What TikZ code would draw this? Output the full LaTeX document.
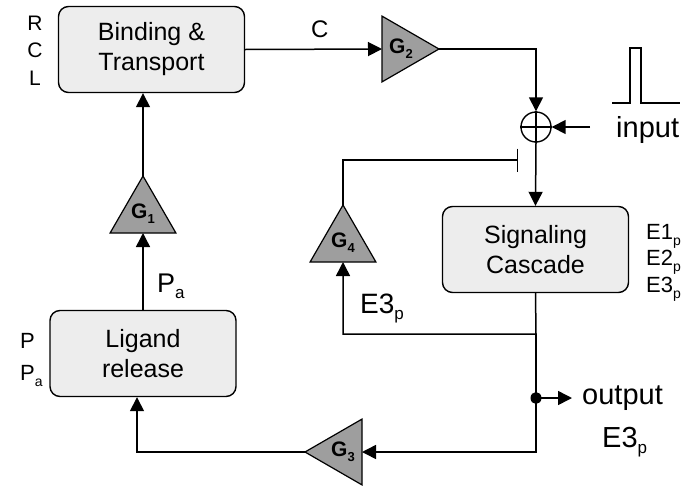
\documentclass[tikz,border=0pt]{standalone}
\usepackage{fontspec}
\setmainfont{Liberation Sans}
\usetikzlibrary{arrows.meta}
\usetikzlibrary{shapes.geometric}

\newcommand{\lsub}[2][15]{\raisebox{-6pt}{\fontsize{#1}{#1}\selectfont #2}}
\newcommand{\gsub}[1]{G\raisebox{-5pt}{\fontsize{13}{13}\selectfont #1}}

\begin{document}
\begin{tikzpicture}[x=1pt,y=-1pt,
  blk/.style={draw, line width=1.4pt, rounded corners=10pt, fill=BoxGray,
    minimum width=186pt, minimum height=86pt, align=center,
    font=\fontsize{25}{30}\selectfont},
  amp/.style={draw, line width=1.2pt, fill=AmpGray, regular polygon,
    regular polygon sides=3, minimum size=76pt, inner sep=0pt, outer sep=0pt,
    font=\bfseries\fontsize{21}{21}\selectfont},
  wire/.style={line width=1.5pt},
  flow/.style={wire, -{Triangle[length=14pt,width=14pt]}},
  lbl/.style={inner sep=0pt, anchor=base west}]
\definecolor{BoxGray}{gray}{0.93}
\definecolor{AmpGray}{gray}{0.62}

\useasboundingbox (0,0) rectangle (696,485);

% blocks
\node[blk] (bind) at (151.5,49.5) {Binding \&\\Transport};
\node[blk] (sig) at (535.5,249.5) {Signaling\\Cascade};
\node[blk] (lig) at (143,353.5) {Ligand\\release};

% gains
\node[amp] (G1) at (143,214) {\gsub{1}};
\node[amp] (G4) at (343,243) {\gsub{4}};
\node[amp, shape border rotate=-90] (G2) at (401,49) {\gsub{2}};
\node[amp, shape border rotate=90] (G3) at (343,452) {\gsub{3}};

% summing point
\node[circle, draw, line width=1.4pt, minimum size=30pt, inner sep=0pt] (sum) at (536,127) {};
\draw[line width=1.2pt] (sum.north) -- (sum.south) (sum.west) -- (sum.east);

\coordinate (pin) at (590,127);
\coordinate (inh) at (518,160);
\coordinate (br) at (536,334);
\coordinate (out) at (536,398);
\coordinate (outtip) at (572,398);
\coordinate (low) at (536,452);

\draw[flow] (lig.north) -- (G1.side 2);
\draw[flow] (G1.corner 1) -- (G1.corner 1 |- bind.south);
\draw[flow] (bind.east) -- (G2.side 2);
\draw[flow] (G2.corner 1) -| (sum.north);
\draw[flow] (pin) -- (sum.east);
\draw[flow] (sum.south) -- (sig.north);
\draw[wire, -{Bar[width=23pt]}] (G4.corner 1) |- (inh);
\draw[flow] (sig.south) -- (br) -| (G4.side 2);
\draw[flow] (br) -- (low) -- (G3.side 2);
\draw[flow] (G3.corner 1) -| ([xshift=-6pt]lig.south);
\fill (out) ellipse (5.5pt and 6pt);
\draw[flow] (out) -- (outtip);

% input pulse
\draw[wire] (612,103) -- (630,103) -- (630,48) -- (641,48) -- (641,103) -- (680,103);

% labels
\node[lbl, font=\fontsize{21}{21}\selectfont, anchor=base] (lR) at (35,30) {R};
\node[lbl, font=\fontsize{21}{21}\selectfont, anchor=base] (lC) at (35,57.5) {C};
\node[lbl, font=\fontsize{21}{21}\selectfont, anchor=base] (lL) at (35,85) {L};
\node[lbl, font=\fontsize{24}{24}\selectfont] (cflow) at (311,37) {C};
\node[lbl, font=\fontsize{29}{29}\selectfont] (linput) at (616,137) {input};
\node[lbl, font=\fontsize{22}{22}\selectfont] (lE1) at (646,239) {E1\lsub[14]{p}};
\node[lbl, font=\fontsize{22}{22}\selectfont] (lE2) at (646,265) {E2\lsub[14]{p}};
\node[lbl, font=\fontsize{22}{22}\selectfont] (lE3) at (646,292) {E3\lsub[14]{p}};
\node[lbl, font=\fontsize{28}{28}\selectfont] (lfb) at (360,313) {E3\lsub[17]{p}};
\node[lbl, font=\fontsize{29}{29}\selectfont] (lout) at (582,404) {output};
\node[lbl, font=\fontsize{29}{29}\selectfont] (lout3) at (602,447) {E3\lsub[17]{p}};
\node[lbl, font=\fontsize{27}{27}\selectfont] (lPa) at (157,292) {P\lsub[17]{a}};
\node[lbl, font=\fontsize{22}{22}\selectfont] (lP) at (20,348) {P};
\node[lbl, font=\fontsize{22}{22}\selectfont] (lPa2) at (20,380) {P\lsub[14]{a}};

\end{tikzpicture}
\end{document}
